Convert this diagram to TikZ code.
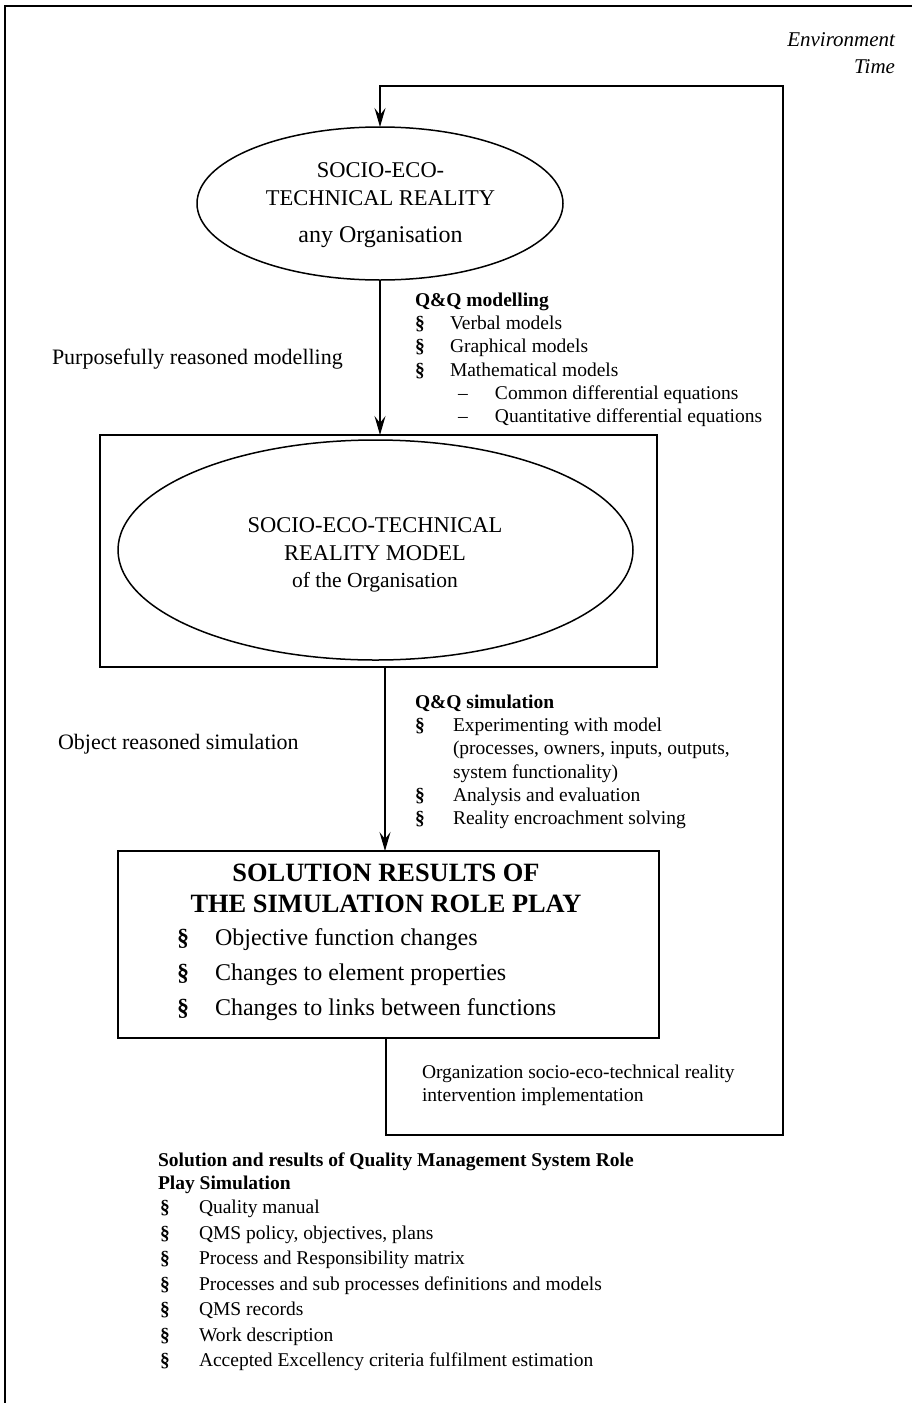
\documentclass[tikz,border=0pt]{standalone}
\usepackage{fontspec}
\setmainfont{Liberation Serif}
\usetikzlibrary{shapes.geometric,arrows.meta,calc}

% font size helper and list bullet
\newcommand\fs[2]{\fontsize{#1}{#2}\selectfont}
\newcommand\bul[1][35pt]{\makebox[#1][l]{\textbf{\S}}}

\begin{document}
\begin{tikzpicture}[
  x=1pt, y=-1pt,
  txt/.style={inner sep=0pt, outer sep=0pt},
  frameline/.style={line width=1.5pt},
  ell/.style={draw, ellipse, line width=1.5pt, inner sep=0pt, outer sep=0pt},
  box/.style={draw, rectangle, line width=2.2pt, inner sep=0pt, outer sep=0pt},
  arr/.style={line width=1.3pt, -{Stealth[length=19pt,width=11pt,inset=7pt]}},
  looparr/.style={line width=1.6pt, line join=miter, -{Stealth[length=19pt,width=11pt,inset=7pt]}},
  lst/.style={txt, anchor=base west, font=\fs{19.5}{23.2}},
]
\useasboundingbox (0,0) rectangle (912,1403);

% outer frame
\draw[frameline] (5,1403) -- (5,6) -- (912,6);

% environment / time label
\node[txt, anchor=base east, font=\itshape\fs{21}{27}] (env) at (895,46)
  {\begin{tabular}[t]{@{}r@{}}Environment\\Time\end{tabular}};

% reality ellipse
\node[ell, minimum width=366pt, minimum height=153pt] (real) at (380,203.5) {};
\node[txt, anchor=base, font=\fs{22.5}{28}] (realtxt) at (380.5,177.5)
  {\begin{tabular}[t]{@{}c@{}}SOCIO-ECO-\\TECHNICAL REALITY\\[9pt]\fs{24}{28}any Organisation\end{tabular}};

% model box with ellipse
\node[box, minimum width=557pt, minimum height=232pt] (modelbox) at (378.5,551) {};
\node[ell, minimum width=515pt, minimum height=220pt] (modelell) at (375.5,550) {};
\node[txt, anchor=base, font=\fs{22.5}{28}] (modeltxt) at (375,532.5)
  {\begin{tabular}[t]{@{}c@{}}SOCIO-ECO-TECHNICAL\\REALITY MODEL\\[-1pt]\fs{21.5}{27}of the Organisation\end{tabular}};

% solution box
\node[box, minimum width=541pt, minimum height=187pt] (solbox) at (388.5,944.5) {};
\node[txt, anchor=base, font=\bfseries\fs{26.4}{31}] (soltitle) at (386,881)
  {\begin{tabular}[t]{@{}c@{}}SOLUTION RESULTS OF\\THE SIMULATION ROLE PLAY\end{tabular}};
\node[txt, anchor=base west, font=\fs{24}{35}] (solitems) at (177,945)
  {\begin{tabular}[t]{@{}l@{}}\bul[38pt]Objective function changes\\
   \bul[38pt]Changes to element properties\\
   \bul[38pt]Changes to links between functions\end{tabular}};

% side labels
\node[txt, anchor=base west, font=\fs{22}{26}] (modlabel) at (52,364) {Purposefully reasoned modelling};
\node[txt, anchor=base west, font=\fs{22}{26}] (simlabel) at (58,749) {Object reasoned simulation};

% modelling list
\node[lst] (qqmod) at (415,306.5)
  {\begin{tabular}[t]{@{}l@{}}\textbf{Q\&Q modelling}\\
   \bul Verbal models\\
   \bul Graphical models\\
   \bul Mathematical models\\
   \hspace{43pt}\makebox[37pt][l]{--}Common differential equations\\
   \hspace{43pt}\makebox[37pt][l]{--}Quantitative differential equations\end{tabular}};

% simulation list
\node[lst] (qqsim) at (415,708.5)
  {\begin{tabular}[t]{@{}l@{}}\textbf{Q\&Q simulation}\\
   \bul[38pt]Experimenting with model\\
   \hspace{38pt}(processes, owners, inputs, outputs,\\
   \hspace{38pt}system functionality)\\
   \bul[38pt]Analysis and evaluation\\
   \bul[38pt]Reality encroachment solving\end{tabular}};

% intervention label
\node[txt, anchor=base west, font=\fs{19.5}{23}] (orgtxt) at (422,1078.5)
  {\begin{tabular}[t]{@{}l@{}}Organization socio-eco-technical reality\\intervention implementation\end{tabular}};

% QMS results
\node[txt, anchor=base west, font=\bfseries\fs{19.5}{23}] (qmshead) at (158,1166.5)
  {\begin{tabular}[t]{@{}l@{}}Solution and results of Quality Management System Role\\Play Simulation\end{tabular}};
\node[txt, anchor=base west, font=\fs{19.5}{25.5}] (qmsitems) at (160,1213.5)
  {\begin{tabular}[t]{@{}l@{}}\bul[39pt]Quality manual\\
   \bul[39pt]QMS policy, objectives, plans\\
   \bul[39pt]Process and Responsibility matrix\\
   \bul[39pt]Processes and sub processes definitions and models\\
   \bul[39pt]QMS records\\
   \bul[39pt]Work description\\
   \bul[39pt]Accepted Excellency criteria fulfilment estimation\end{tabular}};

% connectors
\coordinate (simx) at (385,0);
\coordinate (loopSW) at (386,1135);
\coordinate (loopNE) at (783,86);
\draw[arr] (real.south) -- (real.south |- modelbox.north);
\draw[arr] (modelbox.south -| simx) -- (solbox.north -| simx);
\draw[looparr] (solbox.south -| loopSW) -- (loopSW) -| (loopNE) -| (real.north);
\end{tikzpicture}
\end{document}
